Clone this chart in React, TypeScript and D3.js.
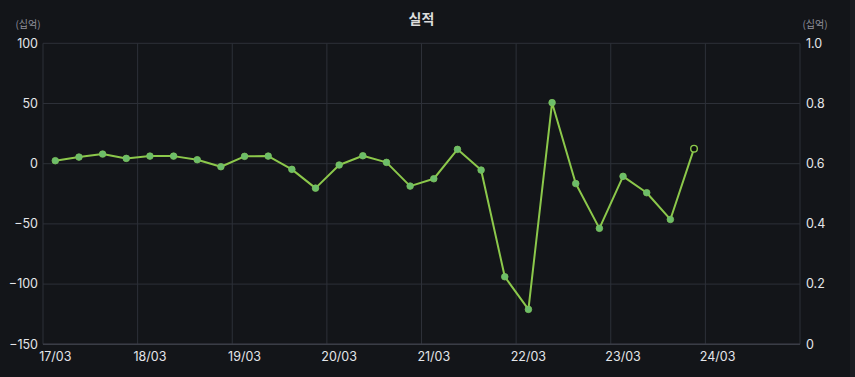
import React from "react";
import * as d3 from "d3";

const periods = [
  "17/03", "17/06", "17/09", "17/12",
  "18/03", "18/06", "18/09", "18/12",
  "19/03", "19/06", "19/09", "19/12",
  "20/03", "20/06", "20/09", "20/12",
  "21/03", "21/06", "21/09", "21/12",
  "22/03", "22/06", "22/09", "22/12",
  "23/03", "23/06", "23/09", "23/12",
];
const values = [
  2.5, 5.5, 8.0, 4.4, 6.3, 6.3, 3.3, -2.5,
  6.1, 6.3, -4.7, -20.3, -1.1, 6.6, 1.1, -18.6,
  -12.5, 11.9, -5.3, -93.9, -121, 50.7, -16.5, -53.7,
  -10.5, -24.1, -46.3, 12.5,
];
const estimated = [
  false, false, false, false, false, false, false, false,
  false, false, false, false, false, false, false, false,
  false, false, false, false, false, false, false, false,
  false, false, false, true,
];
const xTickLabels = ["17/03", "18/03", "19/03", "20/03", "21/03", "22/03", "23/03", "24/03"];
const leftTicks = [100, 50, 0, -50, -100, -150];
const rightTicks = [0, 0.2, 0.4, 0.6, 0.8, 1.0];
const title = "실적";
const unitLabel = "(십억)";

const W = 855;
const H = 377;
const M = { left: 43, right: 800, top: 43.3, bottom: 344.3 };
const QUARTERS_PER_YEAR = 4;

export default function App() {
  const x = d3.scaleLinear().domain([-0.52, periods.length + 3.48]).range([M.left, M.right]);
  const y = d3.scaleLinear().domain([-150, 100]).range([M.bottom, M.top]);
  const yR = d3.scaleLinear().domain([0, 1]).range([M.bottom, M.top]);
  const gridX = d3.range(0, xTickLabels.length + 1).map((k) => -0.52 + QUARTERS_PER_YEAR * k);
  const line = d3
    .line<number>()
    .x((_, i) => x(i))
    .y((d) => y(d));
  const font = "Inter, Roboto, 'Noto Sans CJK KR', sans-serif";

  return (
    <svg
      width={W}
      height={H}
      style={{ position: "absolute", left: 0, top: 0, display: "block" }}
      fontFamily={font}
    >
      <rect width={W} height={H} fill="#131519" />
      <rect x={850} y={0} width={5} height={H} fill="#1b1d22" />
      <text
        x={421.5}
        y={24}
        textAnchor="middle"
        fill="#dcdcdc"
        fontSize={14}
        fontWeight="bold"
        fontFamily="'Noto Sans CJK KR', sans-serif"
      >
        {title}
      </text>
      <text x={28} y={27.5} textAnchor="middle" fill="#8e9099" fontSize={10} fontFamily="'Noto Sans CJK KR', sans-serif">
        {unitLabel}
      </text>
      <text x={815} y={27.5} textAnchor="middle" fill="#8e9099" fontSize={10} fontFamily="'Noto Sans CJK KR', sans-serif">
        {unitLabel}
      </text>
      <g>
        {leftTicks.map((t) => (
          <line key={"h" + t} x1={M.left} x2={M.right} y1={y(t)} y2={y(t)} stroke="#2d3038" strokeWidth={1} />
        ))}
        {gridX.map((g) => (
          <line key={"v" + g} x1={x(g)} x2={x(g)} y1={M.top} y2={M.bottom} stroke="#2d3038" strokeWidth={1} />
        ))}
        <line x1={M.left} x2={M.right} y1={M.bottom} y2={M.bottom} stroke="#3a3d46" strokeWidth={1.5} />
      </g>
      {leftTicks.map((t) => (
        <text key={"lt" + t} x={38} y={y(t)} dy="0.35em" textAnchor="end" fill="#e4e6ea" fontSize={12.5}>
          {t < 0 ? "\u2212" + Math.abs(t) : String(t)}
        </text>
      ))}
      {rightTicks.map((t) => (
        <text key={"rt" + t} x={806} y={yR(t)} dy="0.35em" textAnchor="start" fill="#e4e6ea" fontSize={12.5}>
          {t === 0 ? "0" : t.toFixed(1)}
        </text>
      ))}
      {xTickLabels.map((l, k) => (
        <text key={"xt" + l} x={x(k * QUARTERS_PER_YEAR)} y={361} textAnchor="middle" fill="#e4e6ea" fontSize={12.5}>
          {l}
        </text>
      ))}
      <path d={line(values) || ""} fill="none" stroke="#8cc84b" strokeWidth={2} strokeLinejoin="round" />
      {values.map((v, i) =>
        estimated[i] ? (
          <circle key={"p" + i} cx={x(i)} cy={y(v)} r={3.3} fill="#0b0c0e" stroke="#8cc84b" strokeWidth={1.4} />
        ) : (
          <circle key={"p" + i} cx={x(i)} cy={y(v)} r={3.3} fill="#6cbd6a" stroke="#7cc35c" strokeWidth={0.8} />
        )
      )}
    </svg>
  );
}
